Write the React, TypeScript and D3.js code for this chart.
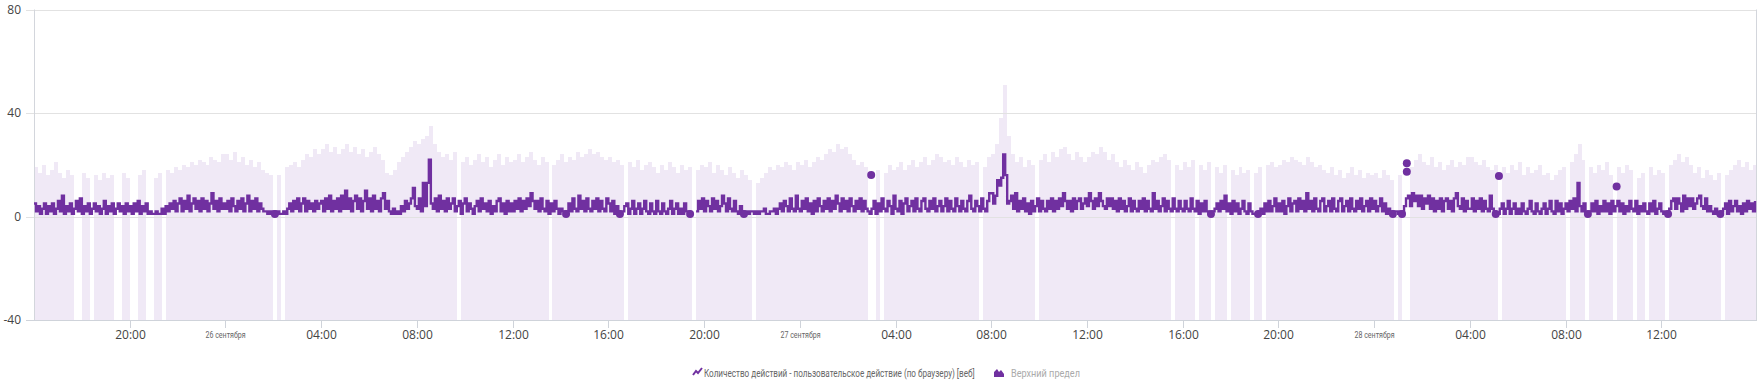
import React, { useLayoutEffect, useRef, useState } from 'react';
import * as d3 from 'd3';

// размеры графика
const width = 1760;
const height = 386;
const margin = { left: 34, right: 3, top: 9.5, bottom: 66 };

const startTime = '2023-09-25 16:00';
const endTime = '2023-09-28 16:00';
const yTicks = [-40, 0, 40, 80];

// Количество действий, шаг 5 минут, строка = 4 часа
const actionValues: (number | null)[] = [
  5,2,4,1,3,5,1,4,2,5,1,3,6,2,8,1,4,2,5,1,3,6,2,7,1,4,2,5,1,3,5,2,4,1,3,6,1,4,2,5,1,3,5,2,4,1,5,2,
  4,1,5,2,6,1,4,2,5,1,2,1,1,2,1,1,3,1,4,2,5,3,6,2,5,7,2,6,3,8,2,5,7,3,6,2,7,3,6,2,5,9,3,6,2,7,3,5,
  3,6,2,7,4,2,6,3,7,2,5,8,2,6,3,7,2,5,3,2,2,1,2,1,2,1,2,1,1,2,1,3,5,2,6,3,7,2,5,7,2,6,3,5,2,6,3,5,
  6,2,7,3,8,2,6,3,7,2,8,3,10,3,7,2,6,8,3,7,2,6,10,3,7,2,8,3,6,2,7,9,3,6,2,1,3,1,2,1,4,2,6,3,5,7,11,4,
  3,7,2,13,4,13,22,5,3,7,2,8,3,6,2,7,3,5,7,2,4,6,1,5,7,2,5,3,1,4,6,2,7,3,5,2,6,1,4,2,6,7,2,5,1,6,2,5,
  2,6,3,7,2,6,3,7,4,9,6,3,6,2,7,3,2,6,1,5,2,6,3,1,3,2,1,2,5,2,7,3,2,8,3,6,2,7,3,2,6,3,7,2,6,3,2,7,
  5,2,6,1,4,2,1,2,4,5,1,3,6,1,3,5,1,3,6,2,1,5,2,1,6,2,1,5,2,1,3,6,1,3,5,1,3,1,5,2,2,1,null,null,2,6,3,7,
  2,6,4,2,7,3,6,2,4,8,5,2,7,3,2,6,2,1,4,2,1,2,1,2,2,1,2,1,2,2,3,1,1,2,2,3,1,3,5,2,6,4,2,7,3,2,8,3,
  2,6,3,7,2,5,1,6,2,7,4,2,6,3,7,2,6,3,8,5,2,7,3,6,2,7,4,2,6,3,7,2,6,3,2,1,3,6,1,5,2,7,3,2,6,4,1,8,
  3,2,6,1,5,7,2,4,6,2,7,3,2,6,7,3,2,6,3,7,2,4,6,2,4,7,2,6,3,2,7,4,2,6,3,2,6,8,3,2,6,4,2,7,3,2,6,9,
  9,5,8,14,12,15,24,16,5,6,8,3,9,2,6,3,7,2,5,1,6,2,4,7,2,6,3,2,6,3,7,2,6,3,7,4,9,6,3,6,2,7,3,6,7,3,5,7,
  4,9,6,3,7,4,9,6,4,3,7,4,7,3,6,2,7,3,6,2,4,7,2,6,3,2,6,3,7,2,6,3,2,9,3,6,2,4,7,2,6,3,2,7,3,2,6,3,
  2,6,3,2,7,3,2,6,1,5,2,6,2,1,1,2,3,5,2,6,3,8,2,5,1,6,2,5,1,3,6,2,1,5,2,1,1,1,2,3,1,5,2,6,2,4,7,2,
  5,2,6,1,4,7,2,5,6,2,7,3,6,2,9,3,6,2,7,3,2,6,7,2,4,6,2,7,3,2,6,7,2,4,6,2,7,3,2,6,3,7,2,4,6,2,7,3,
  6,2,4,7,2,5,1,3,2,1,2,2,1,2,1,4,7,8,4,9,6,8,4,8,3,7,5,8,3,7,2,6,3,7,2,6,7,3,6,2,7,9,4,3,7,2,6,3,
  3,7,2,6,3,7,2,6,3,2,8,3,2,1,1,3,5,1,3,6,1,3,5,1,3,1,5,2,1,3,6,2,1,5,2,1,3,5,1,3,6,2,1,6,2,5,1,3,
  5,2,6,3,7,2,13,4,2,5,1,1,2,5,2,6,1,4,2,6,2,5,1,6,2,4,6,2,5,1,4,2,6,3,2,6,1,4,2,5,2,1,5,2,6,1,3,5,
  2,1,2,1,3,6,7,3,7,5,2,8,3,7,4,7,3,5,7,8,4,3,7,2,4,2,1,3,1,1,2,3,5,1,6,2,4,6,2,4,1,5,2,6,3,5,2,6,
];

// Верхний предел, шаг 10 минут, строка = 4 часа
const upperLimit: (number | null)[] = [
  19,17,20,16,18,21,17,15,18,16,null,null,17,15,null,16,14,17,15,16,null,null,17,15,
  null,null,16,18,null,null,15,17,null,18,17,19,18,20,19,21,20,22,21,20,23,22,21,24,
  24,22,25,21,23,20,22,19,21,18,17,16,null,16,null,19,20,21,19,22,24,23,26,24,
  26,28,25,27,24,26,28,25,27,24,26,23,25,27,24,22,17,16,18,21,23,25,27,29,
  28,30,31,35,28,25,23,24,22,25,null,21,23,20,22,24,21,23,19,22,24,20,23,21,
  22,24,21,23,25,22,20,23,21,null,20,22,24,21,23,22,25,23,24,26,24,25,23,22,
  23,21,22,20,null,21,19,22,18,20,21,19,17,20,18,21,19,17,20,18,19,null,18,20,
  19,21,17,20,18,16,19,17,15,18,16,14,null,13,15,17,19,18,20,19,21,20,18,21,
  20,22,19,21,23,22,24,26,25,28,26,27,24,22,20,21,19,null,null,18,null,17,20,18,
  19,21,18,20,22,19,21,23,20,22,24,23,21,22,20,23,21,19,22,20,21,null,19,23,
  24,28,38,51,31,24,21,23,19,22,20,null,22,24,21,25,23,26,27,24,22,25,23,21,
  23,25,24,27,25,22,24,21,19,22,20,18,21,19,17,20,22,21,23,24,22,null,20,18,
  21,19,22,null,20,18,21,null,19,17,20,null,18,16,19,17,18,null,17,19,null,20,21,19,
  20,22,21,23,22,21,20,23,21,19,20,18,17,19,16,18,15,17,19,16,18,15,17,16,
  17,15,18,16,14,null,16,null,null,19,22,24,21,20,23,19,21,18,20,22,19,21,20,23,
  23,21,20,22,19,18,20,null,19,17,20,18,21,16,19,17,18,20,16,17,14,16,18,19,
  null,21,24,28,22,null,19,17,20,18,21,16,null,19,17,20,18,null,15,17,null,19,16,18,
  17,null,20,22,24,21,23,20,17,19,15,18,16,14,17,null,16,18,20,22,19,21,18,20,
];

// одиночные точки ряда
const dotTimes = [
  '2023-09-26 02:04', '2023-09-26 14:14', '2023-09-26 16:29', '2023-09-26 19:25',
  '2023-09-26 21:40', '2023-09-27 02:59', '2023-09-27 17:11', '2023-09-27 19:09',
  '2023-09-28 00:47', '2023-09-28 01:10', '2023-09-28 01:22', '2023-09-28 01:22',
  '2023-09-28 05:05', '2023-09-28 05:13', '2023-09-28 08:56', '2023-09-28 10:08',
  '2023-09-28 12:17', '2023-09-28 14:28',
];
const dotValues = [1, 1, 1, 1, 1, 16, 1, 1, 1, 1, 20.6, 17.3, 1, 15.7, 1, 11.6, 1, 1];

const legendLabels = [
  'Количество действий - пользовательское действие (по браузеру) [веб]',
  'Верхний предел',
];

const purple = '#7030a0';
const bandColor = '#f0e9f6';
const narrowFont = "'Liberation Sans Narrow', 'Arial Narrow', 'Roboto', sans-serif";
const axisFont = "'Open Sans', 'Segoe UI', sans-serif";

const parse = d3.timeParse('%Y-%m-%d %H:%M');

// текст, сжатый по ширине (узкий шрифт в исходнике)
function FitText({ x, y, w, size, fill, children }: { x: number; y: number; w: number; size: number; fill: string; children: string }) {
  const ref = useRef<SVGTextElement>(null);
  const [k, setK] = useState(0.75);
  useLayoutEffect(() => {
    if (!ref.current) return;
    const natural = ref.current.getComputedTextLength();
    if (natural > 0) setK(w / natural);
  }, [w, children]);
  return (
    <text ref={ref} transform={`translate(${x},${y}) scale(${k},1)`} fontFamily={narrowFont} fontSize={size} fill={fill}>
      {children}
    </text>
  );
}

export default function App() {
  const t0 = parse(startTime) as Date;
  const t1 = parse(endTime) as Date;

  const x = d3.scaleTime().domain([t0, t1]).range([margin.left, width - margin.right]);
  const y = d3.scaleLinear().domain([-40, 80]).range([height - margin.bottom, margin.top]);

  const step5 = (i: number) => d3.timeMinute.offset(t0, i * 5);
  const step10 = (i: number) => d3.timeMinute.offset(t0, i * 10);

  // ступенчатая линия даёт плотную «щётку», как в исходнике
  const line = d3.line<number | null>()
    .defined(d => d != null)
    .curve(d3.curveStepAfter)
    .x((_, i) => x(step5(i)))
    .y(d => y(d as number));

  const ticks = x.ticks(d3.timeHour.every(4) as d3.TimeInterval)
    .filter(d => +d > +t0 && +d < +t1);
  const fmtTime = d3.timeFormat('%H:%M');

  const bottom = y(-40);
  const left = margin.left;
  const right = width - margin.right;

  return (
    <svg width={width} height={height} style={{ position: 'absolute', left: 0, top: 0, background: '#fff' }}>
      {/* Верхний предел */}
      <g shapeRendering="crispEdges">
        {upperLimit.map((v, j) => {
          if (v == null) return null;
          const xa = Math.round(x(step10(j)));
          const xb = Math.round(x(step10(j + 1)));
          return <rect key={j} x={xa} width={xb - xa} y={y(v)} height={bottom - y(v)} fill={bandColor} />;
        })}
      </g>

      {/* сетка */}
      {yTicks.map(t => (
        <line key={t} x1={left - 8} x2={right} y1={Math.round(y(t)) + 0.5} y2={Math.round(y(t)) + 0.5}
          stroke={t === -40 ? '#cfd3da' : '#e2e2e2'} />
      ))}
      <line x1={left + 0.5} x2={left + 0.5} y1={y(80)} y2={bottom} stroke="#d3d6dc" />
      <line x1={right - 0.5} x2={right - 0.5} y1={y(80)} y2={bottom} stroke="#d3d6dc" />

      {yTicks.map(t => (
        <text key={t} x={21} y={y(t)} dy="0.35em" textAnchor="end" fontFamily={axisFont} fontSize={12} fill="#444">
          {t}
        </text>
      ))}

      {ticks.map(d => {
        const xi = Math.round(x(d)) + 0.5;
        const isDay = d.getHours() === 0;
        return (
          <g key={+d}>
            <line x1={xi} x2={xi} y1={bottom} y2={bottom + 8} stroke="#cfd3da" />
            {isDay ? (
              <FitText x={xi - 20} y={bottom + 18} w={40} size={9.5} fill="#666">
                {`${d.getDate()} сентября`}
              </FitText>
            ) : (
              <text x={xi} y={bottom + 19} textAnchor="middle" fontFamily={axisFont} fontSize={12} fill="#444">
                {fmtTime(d)}
              </text>
            )}
          </g>
        );
      })}

      {/* Количество действий */}
      <path d={line(actionValues) || ''} fill="none" stroke={purple} strokeWidth={2.4} strokeLinejoin="miter" />
      {dotTimes.map((t, i) => (
        <circle key={i} cx={x(parse(t) as Date)} cy={y(dotValues[i])} r={4} fill={purple} />
      ))}

      {/* легенда */}
      <g transform="translate(693,368)">
        <path d="M0,7 L3,3 L5,5 L9,0" fill="none" stroke={purple} strokeWidth={2} />
      </g>
      <FitText x={704} y={377} w={271} size={11} fill="#666">{legendLabels[0]}</FitText>
      <g transform="translate(994,368)">
        <path d="M0,9 L0,4 L3,1 L5,4 L7,2 L10,6 L10,9 Z" fill={purple} />
      </g>
      <FitText x={1011} y={377} w={69} size={11} fill="#aaa">{legendLabels[1]}</FitText>
    </svg>
  );
}
